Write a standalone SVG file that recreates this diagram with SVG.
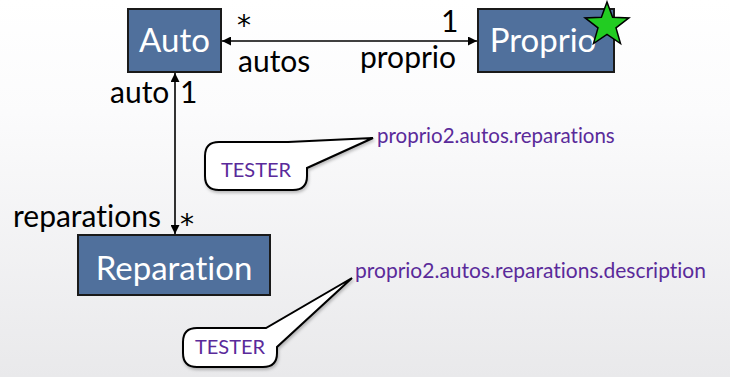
<svg xmlns="http://www.w3.org/2000/svg" width="730" height="377" viewBox="0 0 730 377">
  <defs>
    <linearGradient id="bg" x1="0" y1="0" x2="0" y2="1">
      <stop offset="0" stop-color="#ffffff"/>
      <stop offset="0.3" stop-color="#fbfbfc"/>
      <stop offset="1" stop-color="#e9e9eb"/>
    </linearGradient>
    <marker id="arrow" viewBox="0 0 10 10" refX="10" refY="5" markerWidth="9" markerHeight="9" markerUnits="userSpaceOnUse" orient="auto-start-reverse">
      <path d="M0,0 L10,5 L0,10 Z" fill="#000"/>
    </marker>
    <filter id="shadow" x="-20%" y="-20%" width="140%" height="140%">
      <feDropShadow dx="1" dy="2" stdDeviation="1.5" flood-color="#000" flood-opacity="0.25"/>
    </filter>
  </defs>
  <style>
    text { font-variant-ligatures: none; }
    .box { fill: #50709c; stroke: #1a1a1a; stroke-width: 2; }
    .boxtext { font-family: Lato, "Open Sans", sans-serif; font-size: 33px; fill: #ffffff; }
    .label { font-family: Lato, "Open Sans", sans-serif; font-size: 30px; fill: #000000; }
    .star { font-family: "DejaVu Sans", sans-serif; font-size: 28px; fill: #000000; }
    .conn { stroke: #000; stroke-width: 1.6; fill: none; }
    .bubble { fill: #ffffff; stroke: #000; stroke-width: 2; }
    .purple { font-family: Lato, "Open Sans", sans-serif; fill: #5a2a9a; }
  </style>

  <rect x="0" y="0" width="730" height="377" fill="url(#bg)"/>

  <!-- associations -->
  <g id="connectors">
    <line class="conn" x1="222" y1="41" x2="477" y2="41" marker-start="url(#arrow)" marker-end="url(#arrow)"/>
    <line class="conn" x1="175" y1="73" x2="175" y2="234" marker-start="url(#arrow)" marker-end="url(#arrow)"/>
    <text class="star" x="237" y="35" font-size="25">*</text>
    <text class="label" x="238" y="72">autos</text>
    <text class="label" x="441" y="32">1</text>
    <text class="label" x="360" y="68">proprio</text>
    <text class="label" x="110" y="103">auto</text>
    <text class="label" x="180" y="103">1</text>
    <text class="label" x="13" y="227">reparations</text>
    <text class="star" x="180" y="234">*</text>
  </g>

  <g id="auto">
    <rect class="box" x="128" y="9" width="93" height="63"/>
    <text class="boxtext" x="174.5" y="52" text-anchor="middle">Auto</text>
  </g>

  <g id="proprio">
    <rect class="box" x="478" y="9" width="136" height="63"/>
    <text class="boxtext" x="543" y="52" text-anchor="middle">Proprio</text>
    <polygon points="607,2 612.6,17.3 628.9,17.9 616,27.9 620.5,43.6 607,34.5 593.5,43.6 598,27.9 585.1,17.9 601.4,17.3" fill="#22cc22" stroke="#000" stroke-width="1.5"/>
  </g>

  <g id="reparation">
    <rect class="box" x="78" y="235" width="192" height="60"/>
    <text class="boxtext" x="174" y="280" text-anchor="middle">Reparation</text>
  </g>

  <g id="callout1">
    <path class="bubble" filter="url(#shadow)" d="M219,142 H288 L373,138 L307,168 V176 Q307,190 293,190 H219 Q205,190 205,176 V156 Q205,142 219,142 Z"/>
    <text class="purple" x="256" y="177" font-size="20" text-anchor="middle">TESTER</text>
    <text class="purple" x="377" y="143" font-size="20.5">proprio2.autos.reparations</text>
  </g>

  <g id="callout2">
    <path class="bubble" filter="url(#shadow)" d="M197,328 H266 L352,278 L277,347 V353 Q277,367 263,367 H197 Q183,367 183,353 V342 Q183,328 197,328 Z"/>
    <text class="purple" x="230" y="354" font-size="20" text-anchor="middle">TESTER</text>
    <text class="purple" x="355" y="278" font-size="21">proprio2.autos.reparations.description</text>
  </g>
</svg>
